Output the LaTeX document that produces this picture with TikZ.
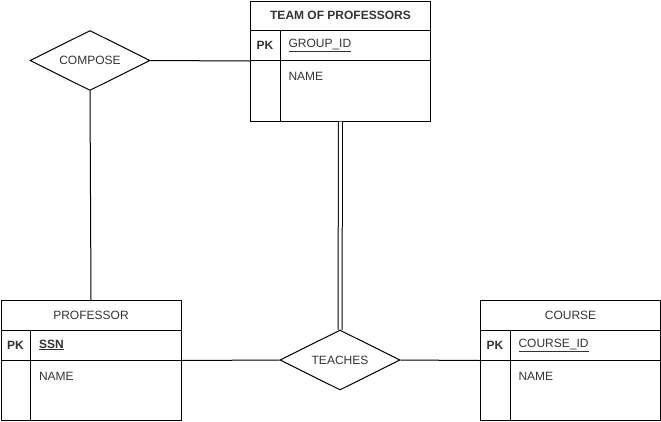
\documentclass[tikz,border=0pt]{standalone}
\usepackage{fontspec}
\setmainfont{Liberation Sans}
\usetikzlibrary{shapes.geometric}
\begin{document}
\begin{tikzpicture}[x=1pt,y=-1pt, line width=1pt,
  tbl/.style={draw, rectangle, minimum width=180pt, minimum height=120pt, inner sep=0pt, anchor=north west},
  rel/.style={draw, diamond, minimum width=120pt, minimum height=60pt, inner sep=0pt, aspect=2, font=\fontsize{12}{14}\selectfont, text=black!80},
  txt/.style={font=\fontsize{12}{14}\selectfont, text=black!80, inner sep=0pt},
  key/.style={txt, anchor=west},
  attr/.style={txt, anchor=west},
  dbl/.style={double, double distance=3pt, line width=1pt}
]
\useasboundingbox (0,0) rectangle (661,421);

% tables
\node[tbl] (team) at (250,0.5) {};
\node[tbl] (prof) at (0.5,300) {};
\node[tbl] (course) at (480,300) {};

\foreach \t in {team,prof,course}{
  \draw ([yshift=-30pt]\t.north west) -- ([yshift=-30pt]\t.north east);
  \draw ([yshift=-60pt]\t.north west) -- ([yshift=-60pt]\t.north east);
  \draw ([xshift=30pt,yshift=-30pt]\t.north west) -- ([xshift=30pt]\t.south west);
  \node[txt, font=\fontsize{12}{14}\selectfont\bfseries] (\t-pk) at ([xshift=15pt,yshift=-45pt]\t.north west) {PK};
  \node[attr] (\t-name) at ([xshift=38pt,yshift=-76pt]\t.north west) {NAME};
}

\node[txt, font=\fontsize{12}{14}\selectfont\bfseries] (team-title) at ([yshift=-15pt]team.north) {TEAM OF PROFESSORS};
\node[txt] (prof-title) at ([yshift=-15pt]prof.north) {PROFESSOR};
\node[txt] (course-title) at ([yshift=-15pt]course.north) {COURSE};

\node[key] (team-key) at ([xshift=38pt,yshift=-45pt]team.north west) {\underline{GROUP\_ID}};
\node[key, font=\fontsize{12}{14}\selectfont\bfseries] (prof-key) at ([xshift=38pt,yshift=-45pt]prof.north west) {\underline{SSN}};
\node[key] (course-key) at ([xshift=38pt,yshift=-45pt]course.north west) {\underline{COURSE\_ID}};

% relationships
\node[rel] (compose) at (90,60.5) {COMPOSE};
\node[rel] (teaches) at (340,360) {TEACHES};

% connectors
\draw (compose.east) -- (team.west);
\draw (compose.south) -- (prof.north);
\draw (prof.east) -- (teaches.west);
\draw (teaches.east) -- (course.west);
\draw[dbl] (team.south) -- (teaches.north);
\end{tikzpicture}
\end{document}
